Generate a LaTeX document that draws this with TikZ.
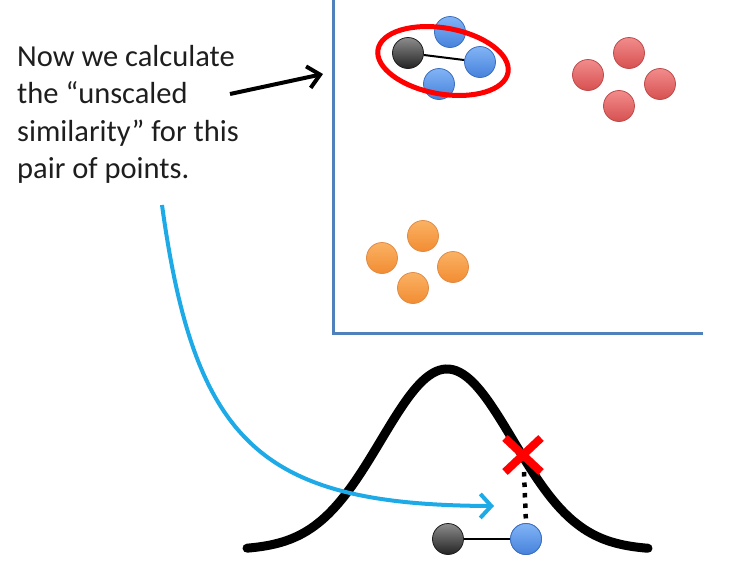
\documentclass[tikz,border=0pt]{standalone}
\usepackage{fontspec}
\setmainfont{Carlito}
\usetikzlibrary{arrows.meta}
\definecolor{axisblue}{RGB}{79,129,189}
\definecolor{cyanarrow}{RGB}{30,170,230}
\definecolor{txtgray}{RGB}{30,30,30}
\tikzset{
  dot/.style={circle, minimum size=31pt, inner sep=0pt, line width=0.8pt},
  bluedot/.style={dot, top color={rgb,255:red,130;green,180;blue,245}, bottom color={rgb,255:red,70;green,130;blue,220}, draw={rgb,255:red,60;green,110;blue,190}},
  reddot/.style={dot, top color={rgb,255:red,242;green,140;blue,140}, bottom color={rgb,255:red,215;green,80;blue,80}, draw={rgb,255:red,190;green,75;blue,75}},
  orangedot/.style={dot, top color={rgb,255:red,250;green,178;blue,100}, bottom color={rgb,255:red,242;green,140;blue,50}, draw={rgb,255:red,225;green,140;blue,70}},
  blackdot/.style={dot, top color={rgb,255:red,140;green,140;blue,140}, bottom color={rgb,255:red,35;green,35;blue,35}, draw={rgb,255:red,30;green,30;blue,30}},
  axisline/.style={draw=axisblue, line width=3pt},
  link/.style={draw=black, line width=2pt},
}
\begin{document}
\begin{tikzpicture}[x=1pt,y=-1pt]
\useasboundingbox (0,0) rectangle (742,579);
% text
\node[anchor=north west, align=left, inner sep=0pt, text=txtgray,
      font=\fontsize{30.5}{37.5}\selectfont] (txt) at (17,45)
  {Now we calculate\\the “unscaled\\similarity” for this\\pair of points.};
% axes
\coordinate (ytop) at (333,0);
\coordinate (orig) at (333,333);
\coordinate (xend) at (703,333);
\draw[axisline] (ytop) -- (orig) -- (xend);
% blue cluster
\node[bluedot] (b1) at (450,32) {};
\node[bluedot] (b3) at (439,84) {};
\node[blackdot] (k1) at (408,53) {};
\node[bluedot] (b2) at (480,62) {};
\draw[link] (k1) -- (b2);
\draw[red, line width=5pt] (443,61) ellipse [x radius=66, y radius=33, rotate=-10];
% red cluster
\node[reddot] (r1) at (629,53) {};
\node[reddot] (r2) at (588,75) {};
\node[reddot] (r3) at (660,84) {};
\node[reddot] (r4) at (619,106) {};
% orange cluster
\node[orangedot] (o1) at (423,236) {};
\node[orangedot] (o2) at (382,258) {};
\node[orangedot] (o3) at (453,267) {};
\node[orangedot] (o4) at (413,288) {};
% black arrow
\coordinate (aS) at (230,94);
\coordinate (aT) at (323,74);
\draw[line width=4pt, -{Straight Barb[length=12pt,width=22pt,line width=4pt]}] (aS) -- (aT);
% gaussian
\draw[line width=9pt, line cap=round] plot[domain=247:648, samples=120, smooth]
  (\x, {550-181*exp(-0.5*pow((\x-447)/66,2))});
% cyan arrow
\coordinate (cS) at (162,205);
\coordinate (cT) at (494,506);
\draw[cyanarrow, line width=4pt, -{Straight Barb[length=11pt,width=24pt,line width=4pt]}]
  (cS) .. controls (195,445) and (262,505) .. (cT);
% dotted drop line
\coordinate (X) at (523,455);
\node[bluedot] (bb) at (526,539) {};
\node[blackdot] (kb) at (448,539) {};
\draw[line width=4.5pt, dash pattern=on 4.5pt off 6pt] (524,472) -- (bb.north);
\node[bluedot] at (bb) {};
\draw[link] (kb) -- (bb);
% red X
\draw[red, line width=8pt] ([shift={(-18,-17)}]X) -- ([shift={(18,17)}]X)
  ([shift={(-18,17)}]X) -- ([shift={(18,-17)}]X);
\end{tikzpicture}
\end{document}
